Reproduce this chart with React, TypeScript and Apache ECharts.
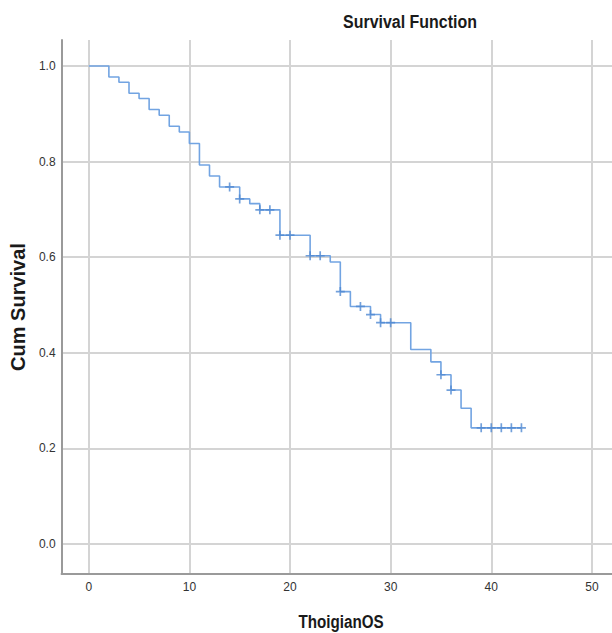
import React, { useEffect, useRef } from "react";
import * as echarts from "echarts";

// Kaplan-Meier estimate
const eventTimes = [0, 2, 3, 4, 5, 6, 7, 8, 9, 10, 11, 12, 13, 15, 16, 17, 19, 22, 24, 25, 26, 28, 29, 32, 34, 35, 36, 37, 38];
const survival = [1.0, 0.977, 0.966, 0.943, 0.932, 0.909, 0.897, 0.874, 0.862, 0.838, 0.793, 0.770, 0.747, 0.722, 0.712, 0.699, 0.646, 0.603, 0.590, 0.528, 0.497, 0.480, 0.463, 0.407, 0.381, 0.354, 0.322, 0.284, 0.243];
const lastFollowUp = 43;
const censorTimes = [14, 15, 17, 18, 19, 20, 22, 23, 25, 27, 28, 29, 30, 35, 36, 39, 40, 41, 42, 43];

const xTicks = [0, 10, 20, 30, 40, 50];
const yTicks = [0, 0.2, 0.4, 0.6, 0.8, 1.0];

const titleText = "Survival Function";
const xName = "ThoigianOS";
const yName = "Cum Survival";

const survAt = (t: number) => {
  let s = survival[0];
  for (let i = 0; i < eventTimes.length; i++) {
    if (eventTimes[i] <= t) s = survival[i];
  }
  return s;
};

export default function App() {
  const ref = useRef<HTMLDivElement>(null);
  useEffect(() => {
    if (!ref.current) return;
    const chart = echarts.init(ref.current, undefined, { renderer: "svg" });

    const stepPts: number[][] = [[eventTimes[0], survival[0]]];
    for (let i = 1; i < eventTimes.length; i++) {
      stepPts.push([eventTimes[i], survival[i - 1]]);
      stepPts.push([eventTimes[i], survival[i]]);
    }
    stepPts.push([lastFollowUp, survival[survival.length - 1]]);
    const censorPts = censorTimes.map((t) => [t, survAt(t)]);

    const sans = "'Liberation Sans', Arial, sans-serif";
    const gridLine = { show: true, lineStyle: { color: "#d4d4d4", width: 2 } };

    chart.setOption({
      animation: false,
      backgroundColor: "#ffffff",
      graphic: [
        {
          type: "text",
          x: 410,
          y: 22,
          scaleX: 0.84,
          style: {
            text: titleText,
            font: "bold 19px " + sans,
            fill: "#1a1a1a",
            textAlign: "center",
            textVerticalAlign: "middle",
          },
        },
        {
          type: "text",
          x: 341,
          y: 621,
          scaleX: 0.8,
          style: {
            text: xName,
            font: "bold 19px " + sans,
            fill: "#1a1a1a",
            textAlign: "center",
            textVerticalAlign: "middle",
          },
        },
      ],
      grid: { left: 60, top: 40, right: 0, bottom: 59 },
      xAxis: {
        type: "value",
        min: -2.7,
        max: 52,
        axisLine: { show: true, onZero: false, lineStyle: { color: "#9a9a9a", width: 2 } },
        axisTick: { show: false, customValues: xTicks },
        axisLabel: {
          customValues: xTicks,
          fontFamily: sans,
          fontSize: 12,
          color: "#333333",
          margin: 7,
        },
        splitLine: gridLine,
      },
      yAxis: {
        type: "value",
        min: -0.0628,
        max: 1.0544,
        name: yName,
        nameLocation: "middle",
        nameGap: 32,
        nameTextStyle: { fontFamily: sans, fontSize: 20, fontWeight: "bold", color: "#1a1a1a" },
        axisLine: { show: true, onZero: false, lineStyle: { color: "#9a9a9a", width: 2 } },
        axisTick: { show: false, customValues: yTicks },
        axisLabel: {
          customValues: yTicks,
          formatter: (v: number) => v.toFixed(1),
          fontFamily: sans,
          fontSize: 12,
          color: "#333333",
          margin: 6,
        },
        splitLine: gridLine,
      },
      series: [
        {
          type: "line",
          data: stepPts,
          symbol: "none",
          lineStyle: { color: "#72a4e2", width: 1.6 },
          z: 3,
        },
        {
          type: "scatter",
          data: censorPts,
          symbol: "path://M3.25,0H4.75V3.25H8V4.75H4.75V8H3.25V4.75H0V3.25H3.25Z",
          symbolSize: 9,
          itemStyle: { color: "#4f88d2" },
          z: 4,
        },
      ],
    });
    return () => chart.dispose();
  }, []);

  return (
    <div
      ref={ref}
      style={{ position: "fixed", left: 0, top: 0, width: 612, height: 633, background: "#fff" }}
    />
  );
}
